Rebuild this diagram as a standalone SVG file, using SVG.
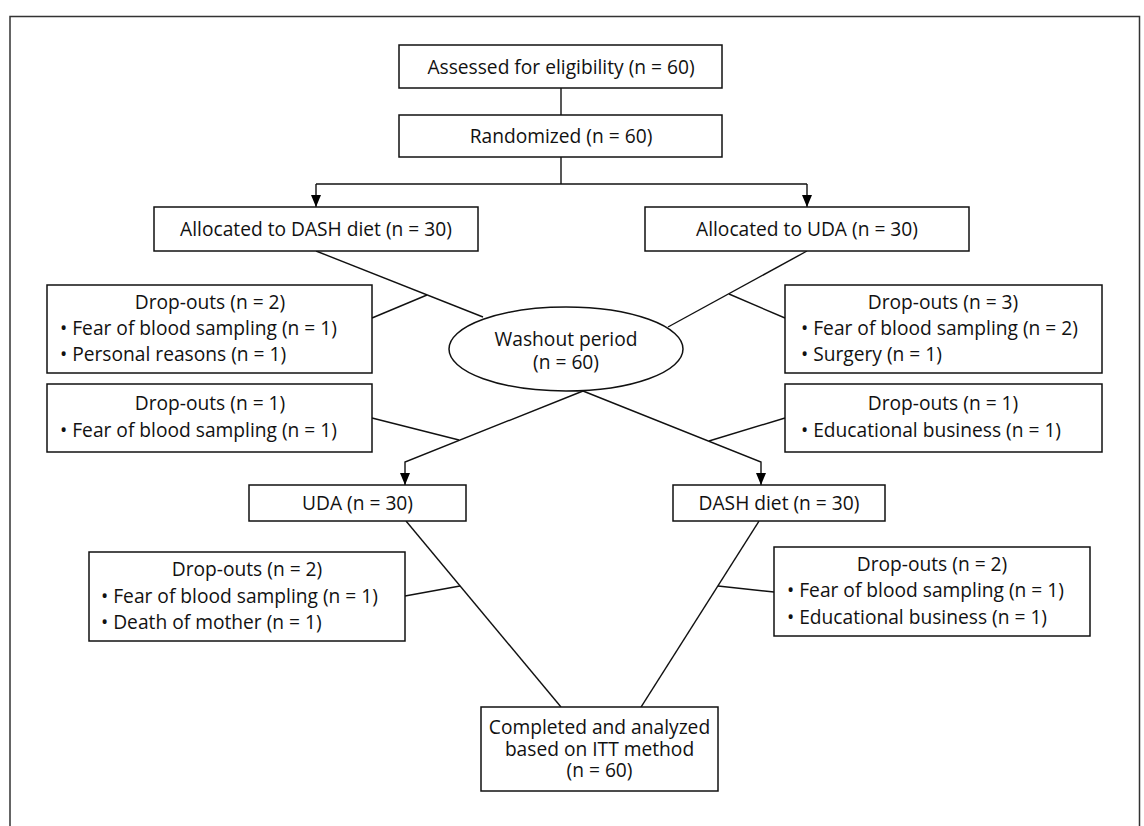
<svg xmlns="http://www.w3.org/2000/svg" width="1144" height="826" viewBox="0 0 1144 826">
<defs>
<marker id="arr" viewBox="0 0 12 10" refX="12" refY="5" markerWidth="12" markerHeight="10" markerUnits="userSpaceOnUse" orient="auto">
<path d="M0,0 L12,5 L0,10 Z" fill="#000"/>
</marker>
<style>
.box{fill:#fff;stroke:#111;stroke-width:1.5}
.ln{fill:none;stroke:#111;stroke-width:1.4}
text{font-family:"Open Sans","Noto Sans","DejaVu Sans",sans-serif;font-size:19.2px;fill:#111}
.c{text-anchor:middle}
</style>
</defs>
<rect width="1144" height="826" fill="#fff"/>
<path d="M10,826 V16.5 H1139.5 V826" fill="none" stroke="#333" stroke-width="1.5"/>
<g id="connectors">
<path class="ln" d="M561,88 V115"/>
<path class="ln" d="M561,157 V184"/>
<path class="ln" d="M316,184 H807"/>
<path class="ln" d="M316,184 V207" marker-end="url(#arr)"/>
<path class="ln" d="M807,184 V207" marker-end="url(#arr)"/>
<path class="ln" d="M316,251 L483,317"/>
<path class="ln" d="M372,318 L427,295"/>
<path class="ln" d="M807,251 L668,327"/>
<path class="ln" d="M785,318 L729,294"/>
<path class="ln" d="M583,391 L405,462 V485" marker-end="url(#arr)"/>
<path class="ln" d="M583,391 L761,462 V485" marker-end="url(#arr)"/>
<path class="ln" d="M372,418 L459,440"/>
<path class="ln" d="M785,418 L709,441"/>
<path class="ln" d="M406,521 L561,707"/>
<path class="ln" d="M759,521 L641,707"/>
<path class="ln" d="M405,596 L460,586"/>
<path class="ln" d="M774,592 L718,586"/>
</g>
<g id="n-assessed">
<rect class="box" x="399" y="45" width="323" height="43"/>
<text class="c" x="561" y="74">Assessed for eligibility (n = 60)</text>
</g>
<g id="n-randomized">
<rect class="box" x="399" y="115" width="323" height="42"/>
<text class="c" x="561" y="143">Randomized (n = 60)</text>
</g>
<g id="n-alloc-dash">
<rect class="box" x="154" y="207" width="324" height="44"/>
<text class="c" x="316" y="236">Allocated to DASH diet (n = 30)</text>
</g>
<g id="n-alloc-uda">
<rect class="box" x="645" y="207" width="324" height="44"/>
<text class="c" x="807" y="236">Allocated to UDA (n = 30)</text>
</g>
<g id="n-drop1">
<rect class="box" x="47" y="285" width="325" height="88"/>
<text class="c" x="210" y="309">Drop-outs (n = 2)</text>
<text x="60" y="335">• Fear of blood sampling (n = 1)</text>
<text x="60" y="361">• Personal reasons (n = 1)</text>
</g>
<g id="n-drop2">
<rect class="box" x="785" y="285" width="317" height="88"/>
<text class="c" x="943" y="309">Drop-outs (n = 3)</text>
<text x="801" y="335">• Fear of blood sampling (n = 2)</text>
<text x="801" y="361">• Surgery (n = 1)</text>
</g>
<g id="n-washout">
<ellipse class="box" cx="566" cy="349" rx="117" ry="42"/>
<text class="c" x="566" y="346">Washout period</text>
<text class="c" x="566" y="369">(n = 60)</text>
</g>
<g id="n-drop3">
<rect class="box" x="47" y="384" width="325" height="68"/>
<text class="c" x="210" y="410">Drop-outs (n = 1)</text>
<text x="60" y="437">• Fear of blood sampling (n = 1)</text>
</g>
<g id="n-drop4">
<rect class="box" x="785" y="384" width="317" height="68"/>
<text class="c" x="943" y="410">Drop-outs (n = 1)</text>
<text x="801" y="437">• Educational business (n = 1)</text>
</g>
<g id="n-uda">
<rect class="box" x="249" y="485" width="217" height="36"/>
<text class="c" x="357.5" y="510">UDA (n = 30)</text>
</g>
<g id="n-dash">
<rect class="box" x="673" y="485" width="212" height="36"/>
<text class="c" x="779" y="510">DASH diet (n = 30)</text>
</g>
<g id="n-drop5">
<rect class="box" x="89" y="552" width="316" height="89"/>
<text class="c" x="247" y="576">Drop-outs (n = 2)</text>
<text x="101" y="603">• Fear of blood sampling (n = 1)</text>
<text x="101" y="629">• Death of mother (n = 1)</text>
</g>
<g id="n-drop6">
<rect class="box" x="774" y="547" width="316" height="89"/>
<text class="c" x="932" y="571">Drop-outs (n = 2)</text>
<text x="787" y="597">• Fear of blood sampling (n = 1)</text>
<text x="787" y="624">• Educational business (n = 1)</text>
</g>
<g id="n-completed">
<rect class="box" x="481" y="707" width="237" height="84"/>
<text class="c" x="599.5" y="734">Completed and analyzed</text>
<text class="c" x="599.5" y="756">based on ITT method</text>
<text class="c" x="599.5" y="777">(n = 60)</text>
</g>
</svg>
